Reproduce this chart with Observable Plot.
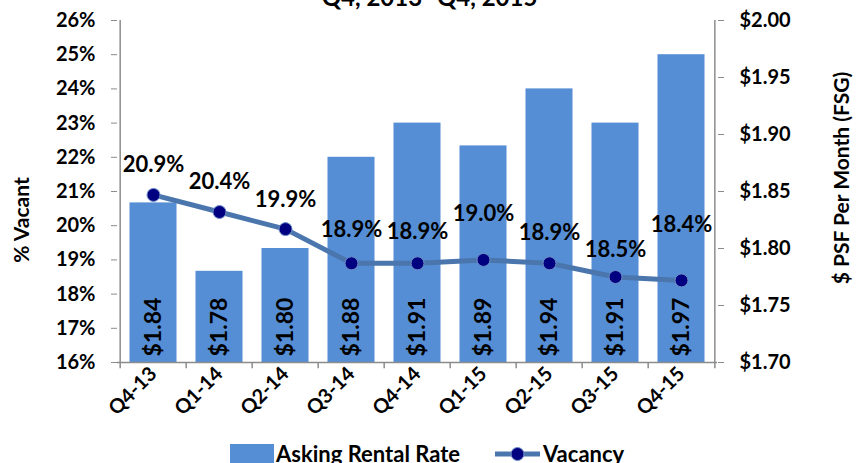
<!DOCTYPE html>
<html>
<head>
<meta charset="utf-8">
<script src="https://cdn.jsdelivr.net/npm/d3@7"></script>
<script src="https://cdn.jsdelivr.net/npm/@observablehq/plot@0.6"></script>
<style>
  html, body { margin: 0; padding: 0; background: #fff; overflow: hidden; }
  body { width: 859px; height: 463px; position: relative; font-family: Lato, "Open Sans", sans-serif; font-weight: bold; color: #000; }
  #title { position: absolute; left: 0; width: 859px; top: -15px; text-align: center; font-size: 24px; line-height: 24px; white-space: nowrap; }
  #chart { position: absolute; left: 0; top: 0; }
  #legend { position: absolute; left: 0; top: 440px; width: 859px; height: 30px; }
  .ytitle { position: absolute; white-space: nowrap; transform: translate(-50%, -50%) rotate(-90deg); line-height: 1; }
  #ylab-left { left: 20px; top: 220px; font-size: 21px; }
  #ylab-right { left: 840px; top: 178px; font-size: 21px; }
</style>
</head>
<body>
<div id="title">Q4, 2013- Q4, 2015</div>
<div id="chart"></div>
<div class="ytitle" id="ylab-left">% Vacant</div>
<div class="ytitle" id="ylab-right">$ PSF Per Month (FSG)</div>
<svg id="legend" width="859" height="30"></svg>
<script>
// ---- data ----
const quarters = ["Q4-13", "Q1-14", "Q2-14", "Q3-14", "Q4-14", "Q1-15", "Q2-15", "Q3-15", "Q4-15"];
const askingRent = [1.84, 1.78, 1.80, 1.88, 1.91, 1.89, 1.94, 1.91, 1.97];
const vacancy = [20.9, 20.4, 19.9, 18.9, 18.9, 19.0, 18.9, 18.5, 18.4];
const vacancyTicks = [16, 17, 18, 19, 20, 21, 22, 23, 24, 25, 26];
const rentTicks = [1.70, 1.75, 1.80, 1.85, 1.90, 1.95, 2.00];
const seriesNames = ["Asking Rental Rate", "Vacancy"];

// ---- layout / style ----
const labelLift = [-30, -30, -29, -33, -31, -46, -30, -27, -55];
const barColor = "#558ed5";
const lineColor = "#4a76ad";
const dotColor = "#000080";
const axisColor = "#8c8c8c";
const font = "Lato, 'Open Sans', sans-serif";
const rentMin = 1.70, rentMax = 2.00, vacMin = 16, vacMax = 26;
const rentToY = r => vacMin + (r - rentMin) / (rentMax - rentMin) * (vacMax - vacMin);
const yToRent = v => rentMin + (v - vacMin) / (vacMax - vacMin) * (rentMax - rentMin);

const data = quarters.map((q, i) => ({q, rent: askingRent[i], vac: vacancy[i], i}));

const W = 859, H = 440, mL = 117, mR = 142, mT = 20, mB = 78;
const step = (W - mL - mR) / quarters.length;

const chart = Plot.plot({
  width: W, height: H,
  marginLeft: mL, marginRight: mR, marginTop: mT, marginBottom: mB,
  style: {fontFamily: font, fontWeight: "bold", fontSize: "20px", color: "#000", background: "transparent"},
  x: {domain: quarters, padding: 0, axis: null},
  y: {domain: [vacMin, vacMax], axis: null},
  marks: [
    Plot.barY(data, {x: "q", y1: vacMin, y2: d => rentToY(d.rent), fill: barColor, insetLeft: 9.5, insetRight: 9.5}),
    Plot.text(data, {x: "q", y: vacMin, text: d => "$" + d.rent.toFixed(2), rotate: -90, textAnchor: "start", lineAnchor: "middle", dy: -6, fontSize: 23, fontWeight: "bold", fill: "#000"}),
    // axis lines and band-edge ticks
    Plot.ruleY([vacMin], {stroke: axisColor, strokeWidth: 1.5}),
    Plot.ruleX([quarters[0]], {dx: -step / 2, y1: vacMin, y2: vacMax, stroke: axisColor, strokeWidth: 1.5}),
    Plot.ruleX([quarters[quarters.length - 1]], {dx: step / 2, y1: vacMin, y2: vacMax, stroke: axisColor, strokeWidth: 1.5}),
    Plot.ruleX(quarters, {dx: -step / 2, y1: vacMin, y2: vacMin - 0.18, stroke: axisColor, strokeWidth: 1.5}),
    Plot.ruleX([quarters[quarters.length - 1]], {dx: step / 2, y1: vacMin, y2: vacMin - 0.18, stroke: axisColor, strokeWidth: 1.5}),
    Plot.axisY({anchor: "left", ticks: vacancyTicks, tickFormat: d => d + "%", tickSize: 6, tickPadding: 16, stroke: axisColor, fontSize: 20, label: null}),
    Plot.axisY({anchor: "right", ticks: rentTicks.map(rentToY), tickFormat: v => "$" + yToRent(v).toFixed(2), tickSize: 6, tickPadding: 16, stroke: axisColor, fontSize: 20, label: null}),
    Plot.axisX({tickRotate: -45, tickSize: 0, tickPadding: 8, fontSize: 20, label: null}),
    // vacancy line
    Plot.lineY(data, {x: "q", y: "vac", stroke: lineColor, strokeWidth: 5}),
    Plot.dot(data, {x: "q", y: "vac", r: 6.5, fill: dotColor, stroke: "#6f8fc8", strokeWidth: 1}),
    data.map((d, i) => Plot.text([d], {x: "q", y: "vac", text: e => e.vac.toFixed(1) + "%", dy: labelLift[i], fontSize: 22, fontWeight: "bold", fill: "#000"}))
  ]
});
document.getElementById("chart").appendChild(chart);

// legend
const lg = d3.select("#legend");
lg.append("rect").attr("x", 230).attr("y", 4).attr("width", 44).attr("height", 19).attr("fill", barColor);
lg.append("text").attr("x", 276).attr("y", 22).attr("font-size", 22).attr("font-weight", "bold").attr("font-family", font).text(seriesNames[0]);
lg.append("line").attr("x1", 495).attr("x2", 540).attr("y1", 14).attr("y2", 14).attr("stroke", lineColor).attr("stroke-width", 5);
lg.append("circle").attr("cx", 517.5).attr("cy", 14).attr("r", 6.5).attr("fill", dotColor).attr("stroke", "#6f8fc8");
lg.append("text").attr("x", 543).attr("y", 22).attr("font-size", 22).attr("font-weight", "bold").attr("font-family", font).text(seriesNames[1]);
</script>
</body>
</html>
